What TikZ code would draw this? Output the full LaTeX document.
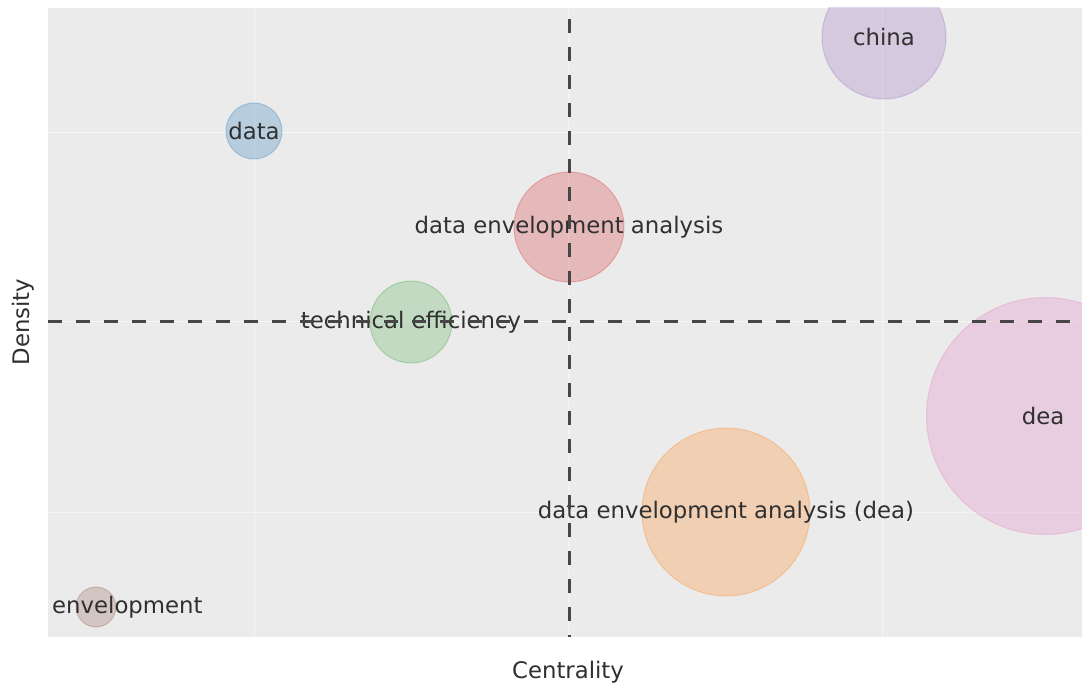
\documentclass[tikz,border=0pt]{standalone}
\usepackage{fontspec}
\setmainfont{DejaVu Sans}
\begin{document}
\begin{tikzpicture}[x=1pt,y=-1pt,
  bubble/.style={circle,inner sep=0pt,minimum size=#1,line width=1pt,fill opacity=0.25,draw opacity=0.28},
  lbl/.style={text=txt,font=\fontsize{22.8}{26}\selectfont,inner sep=0pt},
  quadline/.style={draw=quad,line width=3pt,dash pattern=on 14pt off 14pt},
  gridline/.style={draw=gridc,line width=1pt}]
\definecolor{plotbg}{RGB}{235,235,235}
\definecolor{gridc}{RGB}{244,244,244}
\definecolor{txt}{RGB}{48,48,48}
\definecolor{quad}{RGB}{70,70,70}
\definecolor{cblue}{RGB}{31,119,180}
\definecolor{corange}{RGB}{255,127,14}
\definecolor{cgreen}{RGB}{44,160,44}
\definecolor{cred}{RGB}{214,39,40}
\definecolor{cpurple}{RGB}{148,103,189}
\definecolor{cbrown}{RGB}{140,86,75}
\definecolor{cpink}{RGB}{227,119,194}
\useasboundingbox (0,0) rectangle (1082,684);
\fill[white] (0,0) rectangle (1082,684);
% plot area and grid
\fill[plotbg] (48,8) rectangle (1082,637);
\foreach \gx in {254,568,882} \draw[gridline] (\gx,8) -- (\gx,637);
\foreach \gy in {133,322,512} \draw[gridline] (48,\gy) -- (1082,\gy);
% bubbles
\begin{scope}
\clip (48,8) rectangle (1082,637);
\node[bubble=56pt,fill=cblue,draw=cblue] (bdata) at (254,131) {};
\node[bubble=124pt,fill=cpurple,draw=cpurple] (bchina) at (884,37) {};
\node[bubble=110pt,fill=cred,draw=cred] (bdeaname) at (569,227) {};
\node[bubble=82pt,fill=cgreen,draw=cgreen,fill opacity=0.22] (btech) at (411,322) {};
\node[bubble=237pt,fill=cpink,draw=cpink] (bdea) at (1045,416) {};
\node[bubble=168pt,fill=corange,draw=corange] (bdeafull) at (726,512) {};
\node[bubble=40pt,fill=cbrown,draw=cbrown] (benv) at (96,607) {};
\end{scope}
% bubble labels
\node[lbl] (tdata) at (bdata) {data};
\node[lbl] (tchina) at (bchina) {china};
\node[lbl] (tdeaname) at (bdeaname) {data envelopment analysis};
\node[lbl] (ttech) at (btech) {technical efficiency};
\node[lbl] (tdea) at (1043,416) {dea};
\node[lbl] (tdeafull) at (bdeafull) {data envelopment analysis (dea)};
\node[lbl,anchor=west] (tenv) at (52,607) {envelopment};
% quadrant separators
\coordinate (vtop) at (569,8);
\coordinate (vbot) at (569,637);
\coordinate (hleft) at (48,322);
\coordinate (hright) at (1082,322);
\draw[quadline,dash phase=12pt] (vbot) -- (vtop);
\draw[quadline] (hleft) -- (hright);
% axis titles
\node[lbl] (xtitle) at (568,672) {Centrality};
\node[lbl,rotate=90] (ytitle) at (23,322) {Density};
\end{tikzpicture}
\end{document}
